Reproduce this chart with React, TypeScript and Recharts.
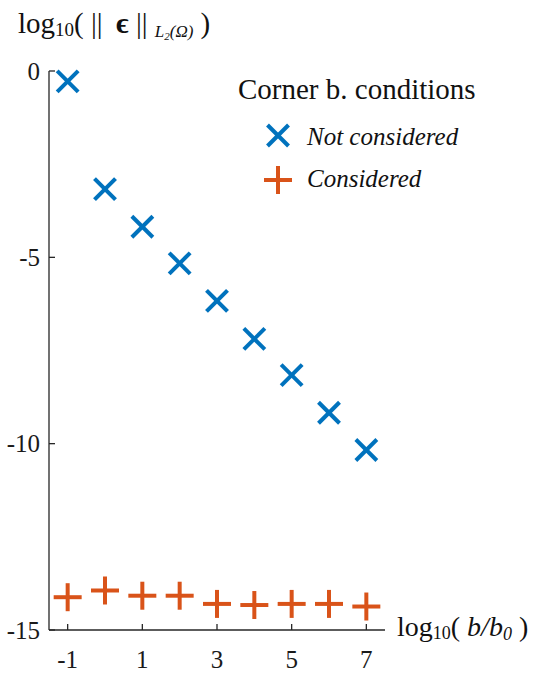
import React from "react";
import { ScatterChart, Scatter, XAxis, YAxis, Legend } from "recharts";

// x = log10(b/b0)
const xValues = [-1, 0, 1, 2, 3, 4, 5, 6, 7];
// log10 of the L2 error, corner boundary conditions not considered
const notConsidered = [-0.28, -3.17, -4.18, -5.16, -6.17, -7.19, -8.16, -9.17, -10.17];
// log10 of the L2 error, corner boundary conditions considered
const considered = [-14.12, -13.94, -14.08, -14.08, -14.3, -14.33, -14.3, -14.3, -14.37];

const seriesNames = ["Not considered", "Considered"];
const xTicks = [-1, 1, 3, 5, 7];
const yTicks = [0, -5, -10, -15];

const BLUE = "#0072BD";
const ORANGE = "#D95319";
const AXIS = "#262626";
const FONT = "'Liberation Serif', 'Times New Roman', serif";

const W = 539;
const H = 678;
const LEFT = 49;
const TOP = 71;
const BOTTOM = 630;
const RIGHT = 385;

const notConsideredData = xValues.map((x, i) => ({ x, y: notConsidered[i] }));
const consideredData = xValues.map((x, i) => ({ x, y: considered[i] }));

const Cross = ({ cx, cy, color }: any) => {
  const s = 10.5;
  return (
    <g stroke={color} strokeWidth={4}>
      <line x1={cx - s} y1={cy - s} x2={cx + s} y2={cy + s} />
      <line x1={cx - s} y1={cy + s} x2={cx + s} y2={cy - s} />
    </g>
  );
};

const Plus = ({ cx, cy, color }: any) => {
  const s = 14;
  return (
    <g stroke={color} strokeWidth={4}>
      <line x1={cx - s} y1={cy} x2={cx + s} y2={cy} />
      <line x1={cx} y1={cy - s} x2={cx} y2={cy + s} />
    </g>
  );
};

const XTick = ({ x, payload }: any) => (
  <g>
    <line x1={x} y1={BOTTOM} x2={x} y2={BOTTOM - 6} stroke={AXIS} strokeWidth={1.3} />
    <text x={x} y={668} textAnchor="middle" fontFamily={FONT} fontSize={25} fill="#1a1a1a">
      {payload.value}
    </text>
  </g>
);

const YTick = ({ y, payload }: any) => (
  <g>
    <line x1={LEFT} y1={y} x2={LEFT + 6} y2={y} stroke={AXIS} strokeWidth={1.3} />
    <text x={40} y={y + 8.5} textAnchor="end" fontFamily={FONT} fontSize={25} fill="#1a1a1a">
      {payload.value}
    </text>
  </g>
);

const LegendBox = ({ payload }: any) => {
  const items = [...(payload || [])].sort(
    (a: any, b: any) => seriesNames.indexOf(a.value) - seriesNames.indexOf(b.value)
  );
  return (
    <svg width={300} height={140} style={{ overflow: "visible" }}>
      <text x={8} y={39} fontFamily={FONT} fontSize={29} fill="#111">
        Corner b. conditions
      </text>
      {items.map((item: any, i: number) => {
        const cy = i === 0 ? 75.5 : 120;
        const ty = i === 0 ? 85 : 127;
        const isCross = item.value === seriesNames[0];
        return (
          <g key={item.value}>
            {isCross ? <Cross cx={48} cy={cy} color={item.color} /> : <Plus cx={48} cy={cy} color={item.color} />}
            <text x={77} y={ty} fontFamily={FONT} fontSize={25} fontStyle="italic" fill="#111">
              {item.value}
            </text>
          </g>
        );
      })}
    </svg>
  );
};

export default function App() {
  return (
    <div style={{ position: "absolute", left: 0, top: 0, width: W, height: H, background: "#fff" }}>
      <ScatterChart width={W} height={H} margin={{ top: TOP, right: W - RIGHT, bottom: 0, left: 0 }}>
        <XAxis
          type="number"
          dataKey="x"
          domain={[-1.5, 7.5]}
          ticks={xTicks}
          height={H - BOTTOM}
          stroke={AXIS}
          strokeWidth={1.3}
          tickLine={false}
          tick={<XTick />}
        />
        <YAxis
          type="number"
          dataKey="y"
          domain={[-15, 0]}
          ticks={yTicks}
          width={LEFT}
          stroke={AXIS}
          strokeWidth={1.3}
          tickLine={false}
          tick={<YTick />}
        />
        <Legend
          layout="horizontal"
          verticalAlign="middle"
          align="center"
          content={<LegendBox />}
          wrapperStyle={{ position: "absolute", left: 230, top: 60, width: 300, height: 140 }}
        />
        <Scatter
          name={seriesNames[0]}
          data={notConsideredData}
          fill={BLUE}
          isAnimationActive={false}
          shape={(p: any) => <Cross cx={p.cx} cy={p.cy} color={BLUE} />}
        />
        <Scatter
          name={seriesNames[1]}
          data={consideredData}
          fill={ORANGE}
          isAnimationActive={false}
          shape={(p: any) => <Plus cx={p.cx} cy={p.cy} color={ORANGE} />}
        />
      </ScatterChart>
      <svg
        width={W}
        height={H}
        style={{ position: "absolute", left: 0, top: 0, pointerEvents: "none" }}
        fontFamily={FONT}
        fill="#111"
      >
        {/* y axis title: log10( || ϵ ||_L2(Ω) ) */}
        <text x={18} y={33} fontSize={29}>
          log
          <tspan y={36} fontSize={19}>10</tspan>
          <tspan y={33}>( ||</tspan>
          <tspan x={116} fontWeight="bold" fontSize={30}>ϵ</tspan>
          <tspan> || </tspan>
          <tspan y={37} fontSize={17} fontStyle="italic">L</tspan>
          <tspan y={40} fontSize={11} fontStyle="italic">2</tspan>
          <tspan y={37} fontSize={17} fontStyle="italic">(Ω)</tspan>
          <tspan y={33}> )</tspan>
        </text>
        <text x={397} y={636} fontSize={28}>
          log
          <tspan fontSize={18} dy={3}>10</tspan>
          <tspan dy={-3}>( </tspan>
          <tspan fontStyle="italic">b/b</tspan>
          <tspan fontStyle="italic" fontSize={18} dy={4}>0</tspan>
          <tspan dy={-4}> )</tspan>
        </text>
      </svg>
    </div>
  );
}
